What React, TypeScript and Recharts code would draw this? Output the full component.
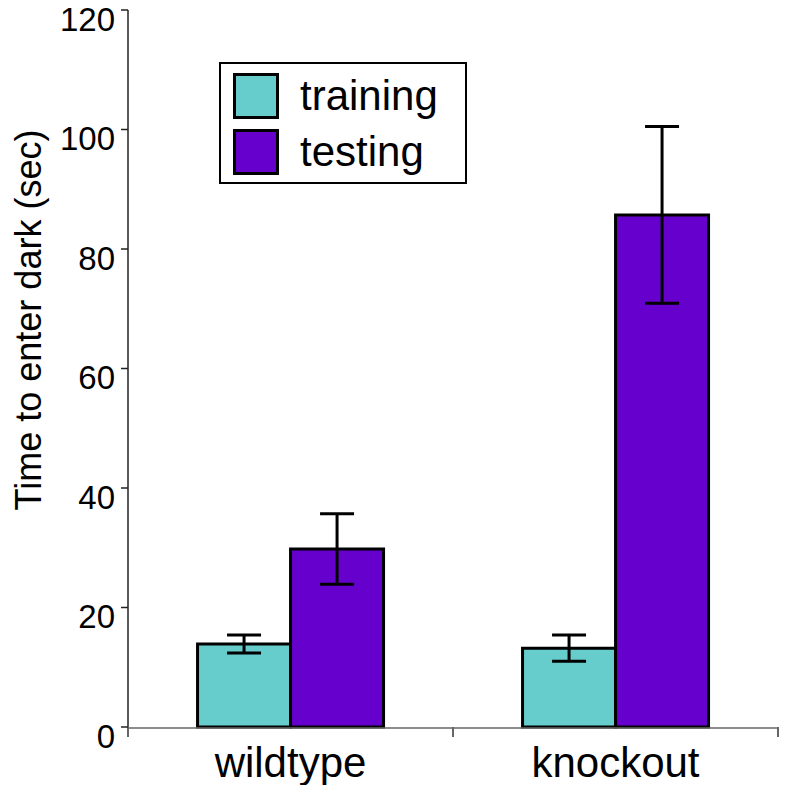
import React from 'react'
import {
  BarChart,
  Bar,
  XAxis,
  YAxis,
  ErrorBar,
  Legend,
} from 'recharts'

const categories = ['wildtype', 'knockout']
const seriesNames = ['training', 'testing']
const trainingMeans = [13.9, 13.2]
const trainingErrors = [1.5, 2.2]
const testingMeans = [29.8, 85.7]
const testingErrors = [5.9, 14.8]
const yTicks = [0, 20, 40, 60, 80, 100, 120]
const edgeTicks = [0, 1, 2]

const data = categories.map((name, i) => ({
  name,
  slot: i,
  training: trainingMeans[i],
  trainingErr: trainingErrors[i],
  testing: testingMeans[i],
  testingErr: testingErrors[i],
}))

const FONT = '"Liberation Sans", Arial, sans-serif'

function LegendBox({ payload }: any) {
  const items = [...(payload || [])].sort(
    (a: any, b: any) => seriesNames.indexOf(a.value) - seriesNames.indexOf(b.value)
  )
  return (
    <div
      style={{
        width: 248,
        height: 122,
        boxSizing: 'border-box',
        border: '2px solid #000',
        background: '#fff',
        padding: '9px 0 0 12px',
        fontFamily: FONT,
      }}
    >
      {items.map((p: any, i: number) => (
        <div
          key={p.value}
          style={{
            display: 'flex',
            alignItems: 'center',
            height: 46,
            marginTop: i === 0 ? 0 : 10,
          }}
        >
          <div
            style={{
              width: 46,
              height: 46,
              boxSizing: 'border-box',
              border: '3px solid #000',
              background: p.color,
            }}
          />
          <span style={{ marginLeft: 21, fontSize: 42, color: '#000', lineHeight: '46px' }}>
            {p.value}
          </span>
        </div>
      ))}
    </div>
  )
}

function YTick({ x, y, payload }: any) {
  return (
    <text
      x={x}
      y={y + 9}
      textAnchor="end"
      dominantBaseline="central"
      fontSize={33}
      fill="#000"
      fontFamily={FONT}
    >
      {payload.value}
    </text>
  )
}

export default function App() {
  return (
    <div style={{ position: 'absolute', left: 0, top: 0, background: '#fff' }}>
      <BarChart
        width={786}
        height={785}
        data={data}
        margin={{ top: 10, right: 8, bottom: 0, left: 0 }}
        barCategoryGap="21.4%"
        barGap={0}
        style={{ fontFamily: FONT }}
      >
        <XAxis
          xAxisId="a"
          dataKey="slot"
          type="number"
          domain={[0, 2]}
          allowDataOverflow
          ticks={edgeTicks}
          interval={0}
          tickFormatter={() => ''}
          tickSize={10}
          axisLine={false}
          tickLine={{ stroke: '#333', strokeWidth: 1.5 }}
          height={1}
        />
        <XAxis
          xAxisId="b"
          dataKey="name"
          height={57}
          tickLine={false}
          tickSize={0}
          tickMargin={19}
          axisLine={{ stroke: '#666', strokeWidth: 1.5 }}
          tick={{ fill: '#000', fontSize: 42 }}
        />
        <YAxis
          width={128}
          domain={[0, 120]}
          ticks={yTicks}
          interval={0}
          tickSize={7}
          tickMargin={6}
          axisLine={{ stroke: '#222', strokeWidth: 1.5 }}
          tickLine={{ stroke: '#222', strokeWidth: 1.5 }}
          tick={<YTick />}
          label={{
            content: () => (
              <text
                x={41}
                y={320}
                transform="rotate(-90, 41, 320)"
                textAnchor="middle"
                fontSize={36}
                fill="#000"
                fontFamily={FONT}
              >
                Time to enter dark (sec)
              </text>
            ),
          }}
        />
        <Legend
          layout="vertical"
          align="center"
          verticalAlign="middle"
          content={<LegendBox />}
          wrapperStyle={{ position: 'absolute', left: 219, top: 62, width: 248, height: 122 }}
        />
        <Bar
          xAxisId="b"
          dataKey="training"
          name="training"
          fill="#66CCCC"
          stroke="#000"
          strokeWidth={3}
          isAnimationActive={false}
        >
          <ErrorBar dataKey="trainingErr" width={17} strokeWidth={3} stroke="#000" />
        </Bar>
        <Bar
          xAxisId="b"
          dataKey="testing"
          name="testing"
          fill="#6600CC"
          stroke="#000"
          strokeWidth={3}
          isAnimationActive={false}
        >
          <ErrorBar dataKey="testingErr" width={17} strokeWidth={3} stroke="#000" />
        </Bar>
      </BarChart>
    </div>
  )
}
